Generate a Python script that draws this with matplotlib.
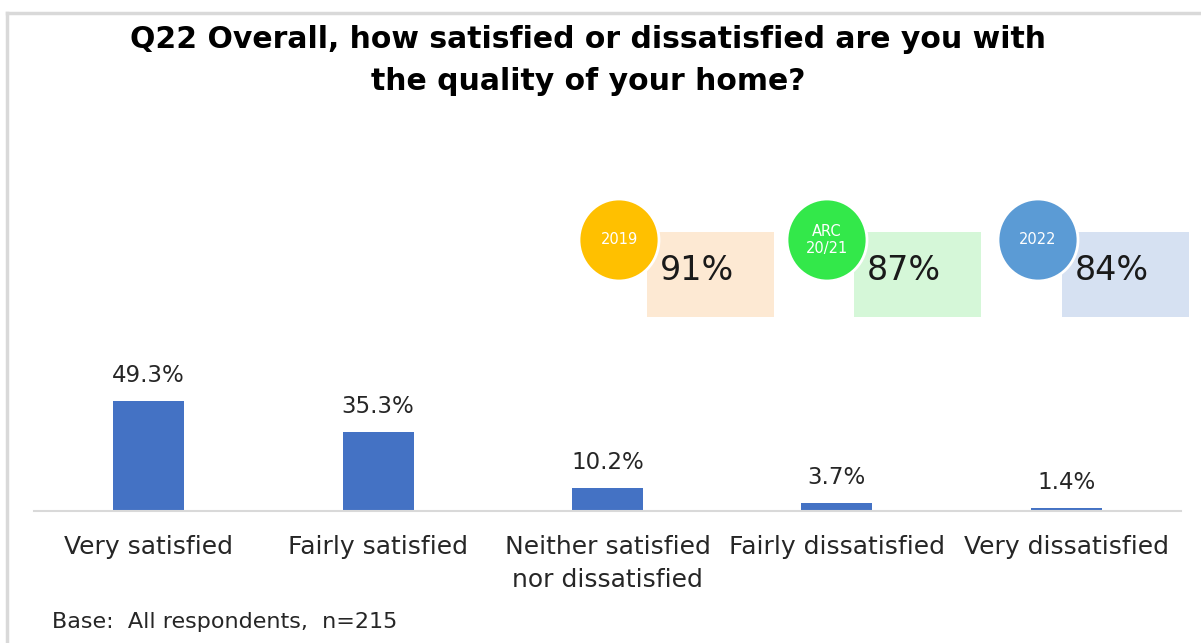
import matplotlib
matplotlib.use("Agg")
import matplotlib.pyplot as plt
from matplotlib.patches import Rectangle, Ellipse

categories = ["Very satisfied", "Fairly satisfied", "Neither satisfied\nnor dissatisfied",
              "Fairly dissatisfied", "Very dissatisfied"]
values = [49.3, 35.3, 10.2, 3.7, 1.4]
value_labels = ["49.3%", "35.3%", "10.2%", "3.7%", "1.4%"]

badge_years = ["2019", "ARC\n20/21", "2022"]
badge_values = ["91%", "87%", "84%"]
badge_circle_colors = ["#FFC000", "#33E84A", "#5B9BD5"]
badge_box_colors = ["#FDE9D3", "#D5F7D8", "#D6E1F2"]

FONT = ["DejaVu Sans"]
W, H = 1201, 643
fig = plt.figure(figsize=(W / 100, H / 100), dpi=100)
fig.patch.set_facecolor("white")

def fx(px):
    return px / W

def fy(py):
    return 1 - py / H

# frame
fig.add_artist(plt.Line2D([fx(6.5), fx(1201)], [fy(12.5), fy(12.5)], color="#D9D9D9", lw=2.5))
fig.add_artist(plt.Line2D([fx(6.5), fx(6.5)], [fy(12.5), fy(643)], color="#D9D9D9", lw=2.5))

# axes: x 34..1181, baseline y=511
ax_left, ax_right = 34, 1181
base_y = 511
ymax = 60
px_per_unit = 2.23
ax_top = base_y - ymax * px_per_unit
ax = fig.add_axes([fx(ax_left), fy(base_y), fx(ax_right - ax_left), (base_y - ax_top) / H])
x = list(range(len(categories)))
ax.bar(x, values, width=0.31, color="#4472C4", zorder=2)
ax.set_xlim(-0.5, len(categories) - 0.5)
ax.set_ylim(0, ymax)
for s in ["top", "right", "left"]:
    ax.spines[s].set_visible(False)
ax.spines["bottom"].set_color("#D9D9D9")
ax.spines["bottom"].set_linewidth(1.5)
ax.set_yticks([])
ax.set_xticks(x)
ax.set_xticklabels(categories, fontsize=18, family=FONT, color="#262626", linespacing=1.5, va="top")
ax.tick_params(axis="x", length=0, pad=17)
for xi, v, lab in zip(x, values, value_labels):
    ax.annotate(lab, (xi, v), xytext=(0, 10), textcoords="offset points", ha="center",
                va="bottom", fontsize=16.5, family=FONT, color="#262626", clip_on=False)

# title
fig.text(fx(588), fy(40), "Q22 Overall, how satisfied or dissatisfied are you with",
         ha="center", va="center", fontsize=21.5, fontweight="bold", family=FONT, color="black")
fig.text(fx(588), fy(82), "the quality of your home?",
         ha="center", va="center", fontsize=21.5, fontweight="bold", family=FONT, color="black")

# footnote
fig.text(fx(52), fy(622), "Base:  All respondents,  n=215", ha="left", va="center",
         fontsize=16, family=FONT, color="#262626")

# badges
circle_cx = [619, 827, 1038]
box_x0 = [647, 854, 1062]
for cx, bx, yr, val, cc, bc in zip(circle_cx, box_x0, badge_years, badge_values,
                                     badge_circle_colors, badge_box_colors):
    fig.add_artist(Rectangle((fx(bx), fy(317)), fx(127), (317 - 232) / H,
                             facecolor=bc, edgecolor="none", transform=fig.transFigure))
    fig.add_artist(Ellipse((fx(cx), fy(240)), fx(80), 82 / H, facecolor=cc,
                           edgecolor="white", lw=2, transform=fig.transFigure))
    fig.text(fx(bx + 50), fy(271), val, ha="center", va="center", fontsize=24,
             family=FONT, color="#1a1a1a")
    fig.text(fx(cx), fy(240), yr, ha="center", va="center", fontsize=10.5,
             family=FONT, color="white", linespacing=1.1)

fig.savefig("out.png", dpi=100, facecolor="white")
